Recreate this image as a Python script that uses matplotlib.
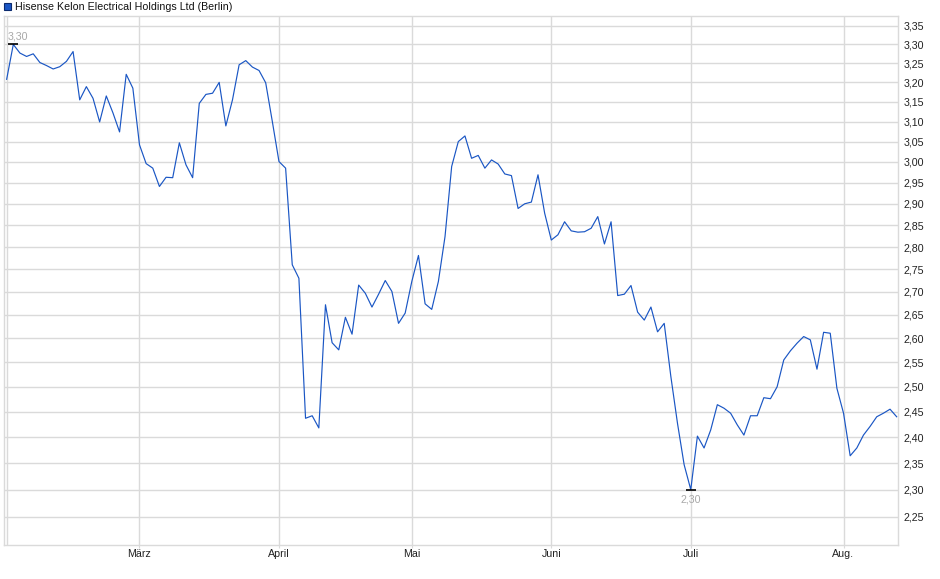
import matplotlib
matplotlib.use("Agg")
import matplotlib.pyplot as plt
from matplotlib.ticker import FixedLocator, NullLocator, FuncFormatter
from matplotlib.patches import Rectangle

plt.rcParams['font.family'] = ['Liberation Sans', 'DejaVu Sans']

title = "Hisense Kelon Electrical Holdings Ltd (Berlin)"

# closing prices per trading day (Feb 3 .. Aug 13)
prices = [
    3.208, 3.300, 3.277, 3.268, 3.275, 3.252, 3.244, 3.235, 3.241, 3.255,
    3.281, 3.155, 3.189, 3.159, 3.099, 3.165, 3.122, 3.074, 3.221, 3.185,
    3.042, 2.996, 2.985, 2.941, 2.963, 2.962, 3.047, 2.993, 2.962, 3.146,
    3.169, 3.172, 3.200, 3.089, 3.155, 3.246, 3.257, 3.240, 3.231, 3.199,
    3.100, 3.001, 2.985, 2.760, 2.730, 2.437, 2.442, 2.418, 2.672, 2.591,
    2.576, 2.645, 2.609, 2.715, 2.697, 2.667, 2.695, 2.725, 2.701, 2.632,
    2.654, 2.723, 2.781, 2.674, 2.662, 2.723, 2.824, 2.989, 3.050, 3.064,
    3.009, 3.016, 2.985, 3.005, 2.995, 2.971, 2.967, 2.889, 2.900, 2.904,
    2.969, 2.878, 2.816, 2.828, 2.858, 2.837, 2.834, 2.835, 2.843, 2.870,
    2.807, 2.858, 2.692, 2.695, 2.714, 2.656, 2.639, 2.667, 2.614, 2.632,
    2.521, 2.427, 2.347, 2.300, 2.402, 2.379, 2.414, 2.464, 2.457, 2.447,
    2.424, 2.404, 2.442, 2.442, 2.478, 2.476, 2.500, 2.555, 2.574, 2.590,
    2.604, 2.597, 2.536, 2.613, 2.611, 2.497, 2.447, 2.364, 2.379, 2.404,
    2.421, 2.440, 2.447, 2.455, 2.440,
]

month_labels = ["März", "April", "Mai", "Juni", "Juli", "Aug."]
month_start_idx = [20, 41, 61, 82, 103, 126]
y_ticks = [2.25, 2.30, 2.35, 2.40, 2.45, 2.50, 2.55, 2.60, 2.65, 2.70, 2.75,
           2.80, 2.85, 2.90, 2.95, 3.00, 3.05, 3.10, 3.15, 3.20, 3.25, 3.30, 3.35]

W, H = 940, 579
fig = plt.figure(figsize=(W / 100, H / 100), dpi=100)
ax = fig.add_axes([4 / W, 1 - 545 / H, (898 - 4) / W, (545 - 16) / H])

x = list(range(len(prices)))
grid_c = "#dadada"

ax.set_yscale("log")
ax.set_ylim(2.199, 3.377)
ax.set_xlim(-0.4, 134.2)

ax.yaxis.set_major_locator(FixedLocator(y_ticks))
ax.yaxis.set_minor_locator(NullLocator())
ax.yaxis.set_major_formatter(FuncFormatter(lambda v, p: f"{v:.2f}".replace(".", ",")))
ax.yaxis.tick_right()
ax.tick_params(axis="y", length=0, pad=4, labelsize=7.7, labelcolor="#222222")

ax.set_xticks(month_start_idx)
ax.set_xticklabels(month_labels)
ax.tick_params(axis="x", length=2, width=0.8, color=grid_c, pad=1,
               labelsize=7.7, labelcolor="#222222")

for yv in y_ticks:
    ax.axhline(yv, color=grid_c, lw=1.0, zorder=0)
for xv in [0] + month_start_idx:
    ax.axvline(xv, color=grid_c, lw=1.0, zorder=0)

for s in ax.spines.values():
    s.set_color(grid_c)
    s.set_linewidth(1.0)

ax.plot(x, prices, color="#1a56c4", lw=0.85, zorder=3)

# max / min markers
imax = max(range(len(prices)), key=lambda i: prices[i])
imin = min(range(len(prices)), key=lambda i: prices[i])
for i, dx, dy in [(imax, 3.2, 6), (imin, 0, -7)]:
    ax.plot([i], [prices[i]], marker="_", markersize=7, mew=1.2, color="black", zorder=4)
    ax.annotate(f"{prices[i]:.2f}".replace(".", ","), (i, prices[i]),
                xytext=(dx, dy), textcoords="offset points",
                ha="center", va="center", fontsize=7.7, color="#a8a8a8")

# legend-like title
fig.patches.append(Rectangle((4 / W, 1 - 10 / H), 7 / W, 7 / H, transform=fig.transFigure,
                             facecolor="#1a56c4", edgecolor="#0b2a6e", lw=0.8))
fig.text(15 / W, 1 - 6.5 / H, title, ha="left", va="center", fontsize=7.7, color="#111111")

fig.savefig("out.png", dpi=100)
